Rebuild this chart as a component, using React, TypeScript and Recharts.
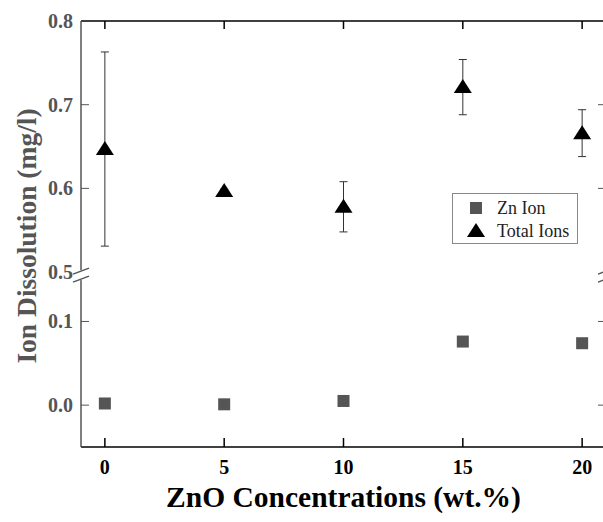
import { ScatterChart, Scatter, XAxis, YAxis, ErrorBar, ReferenceDot } from 'recharts';

const concentrations = [0, 5, 10, 15, 20];
const znIon = [0.002, 0.001, 0.005, 0.076, 0.074];
const totalIons = [0.647, 0.597, 0.578, 0.721, 0.666];
const totalErr = [0.116, 0.002, 0.03, 0.033, 0.028];
const xTicks = [0, 5, 10, 15, 20];
const yTickValues = [0.0, 0.1, 0.5, 0.6, 0.7, 0.8];

// broken axis: 0.159 .. 0.5 is cut out
const BREAK_LOW = 0.159;
const BREAK_HIGH = 0.5;
const GAP = BREAK_HIGH - BREAK_LOW;
const toAxis = (v: number) => (v >= BREAK_HIGH ? v - GAP : v);
const fromAxis = (v: number) => (v >= BREAK_LOW - 1e-6 ? v + GAP : v);

const znData = concentrations.map((c, i) => ({ x: c, y: toAxis(znIon[i]) }));
const totalData = concentrations.map((c, i) => ({ x: c, y: toAxis(totalIons[i]), err: totalErr[i] }));

const PLOT_LEFT = 81;
const PLOT_RIGHT = 607;
const PLOT_TOP = 21;
const PLOT_BOTTOM = 447;
const GRAY = '#555';
const FONT = '"Liberation Serif", "Times New Roman", serif';

const Square = (p: any) => <rect x={p.cx - 6} y={p.cy - 6} width={12} height={12} fill={GRAY} />;
const Triangle = (p: any) => (
  <polygon points={`${p.cx},${p.cy - 8} ${p.cx + 9},${p.cy + 6} ${p.cx - 9},${p.cy + 6}`} fill="#000" />
);

const LeftTick = (p: any) => {
  const v = fromAxis(p.payload.value);
  const isBreak = Math.abs(v - BREAK_HIGH) < 1e-6;
  return (
    <g>
      {!isBreak && v < 0.79 && <line x1={PLOT_LEFT} x2={PLOT_LEFT + 8} y1={p.y} y2={p.y} stroke={GRAY} />}
      {!isBreak && v < 0.79 && <line x1={PLOT_RIGHT - 9} x2={PLOT_RIGHT} y1={p.y} y2={p.y} stroke={GRAY} />}
      <text x={PLOT_LEFT - 8} y={p.y + 7} textAnchor="end" fontFamily={FONT} fontWeight="bold" fontSize={20} fill={GRAY}>
        {v.toFixed(1)}
      </text>
    </g>
  );
};

const BottomTick = (p: any) => (
  <g>
    <line x1={p.x} x2={p.x} y1={PLOT_BOTTOM} y2={PLOT_BOTTOM - 9} stroke="#000" strokeWidth={1.5} />
    <line x1={p.x} x2={p.x} y1={PLOT_TOP} y2={PLOT_TOP + 8} stroke="#000" strokeWidth={1.5} />
    <text x={p.x} y={PLOT_BOTTOM + 27} textAnchor="middle" fontFamily={FONT} fontWeight="bold" fontSize={20} fill="#000">
      {p.payload.value}
    </text>
  </g>
);

const BreakMark = (p: any) => (
  <g>
    <rect x={p.cx - 2} y={p.cy - 2} width={4} height={10} fill="#fff" />
    <line x1={p.cx - 8} y1={p.cy + 2} x2={p.cx + 8} y2={p.cy - 4} stroke={GRAY} strokeWidth={1.5} />
    <line x1={p.cx - 8} y1={p.cy + 10} x2={p.cx + 8} y2={p.cy + 4} stroke={GRAY} strokeWidth={1.5} />
  </g>
);

const XLabel = (p: any) => {
  const vb = p.viewBox;
  return (
    <text x={vb.x + vb.width / 2} y={507} textAnchor="middle" fontFamily={FONT} fontWeight="bold" fontSize={29.5} fill="#000">
      ZnO Concentrations (wt.%)
    </text>
  );
};

const YLabel = (p: any) => {
  const vb = p.viewBox;
  const cy = vb.y + vb.height / 2 + 2;
  return (
    <text x={26} y={cy} transform={`rotate(-90 26 ${cy})`} textAnchor="middle" dominantBaseline="central"
      fontFamily={FONT} fontWeight="bold" fontSize={27.5} fill={GRAY}>
      Ion Dissolution (mg/l)
    </text>
  );
};

const legendItems = [
  { name: 'Zn Ion', kind: 'square' },
  { name: 'Total Ions', kind: 'triangle' },
];

const LegendBox = () => (
  <svg width={126} height={51} style={{ position: 'absolute', left: 452, top: 193 }}>
    <rect x={0.5} y={0.5} width={125} height={50} fill="#fff" stroke="#888" />
    {legendItems.map((it, i) => {
      const cy = 15 + i * 23;
      return (
        <g key={it.name}>
          {it.kind === 'square' ? <Square cx={24} cy={cy} /> : <Triangle cx={24} cy={cy} />}
          <text x={45} y={cy + 6} fontFamily={FONT} fontSize={18} fill="#222">{it.name}</text>
        </g>
      );
    })}
  </svg>
);

export default function App() {
  return (
    <div style={{ position: 'absolute', left: 0, top: 0, width: 603, height: 522, overflow: 'hidden', background: '#fff' }}>
      <ScatterChart width={PLOT_RIGHT} height={522} margin={{ top: PLOT_TOP - 1, right: 0, bottom: 522 - PLOT_BOTTOM - 30, left: 0 }}>
        <XAxis xAxisId="b" type="number" dataKey="x" domain={[-1, 21]} ticks={xTicks} height={30}
          axisLine={{ stroke: '#000', strokeWidth: 1.5 }} tickLine={false} tick={<BottomTick />} label={<XLabel />} />
        <XAxis xAxisId="t" orientation="top" type="number" dataKey="x" domain={[-1, 21]} height={1}
          axisLine={{ stroke: '#000', strokeWidth: 1.5 }} tickLine={false} tick={false} />
        <YAxis yAxisId="l" type="number" dataKey="y" domain={[-0.05, 0.459]} ticks={yTickValues.map(toAxis)} width={PLOT_LEFT}
          axisLine={{ stroke: GRAY, strokeWidth: 1.5 }} tickLine={false} tick={<LeftTick />} label={<YLabel />} />
        <YAxis yAxisId="r" orientation="right" type="number" dataKey="y" domain={[-0.05, 0.459]} width={1}
          axisLine={{ stroke: GRAY, strokeWidth: 1.5 }} tickLine={false} tick={false} />
        <Scatter name="Zn Ion" xAxisId="b" yAxisId="l" data={znData} shape={<Square />} isAnimationActive={false} />
        <Scatter name="Total Ions" xAxisId="b" yAxisId="l" data={totalData} shape={<Triangle />} isAnimationActive={false}>
          <ErrorBar dataKey="err" direction="y" width={4} stroke="#333" strokeWidth={1} />
        </Scatter>
        <ReferenceDot xAxisId="b" yAxisId="l" x={-1} y={BREAK_LOW} ifOverflow="visible" shape={<BreakMark />} />
        <ReferenceDot xAxisId="b" yAxisId="l" x={21} y={BREAK_LOW} ifOverflow="visible" shape={<BreakMark />} />
      </ScatterChart>
      <LegendBox />
    </div>
  );
}
